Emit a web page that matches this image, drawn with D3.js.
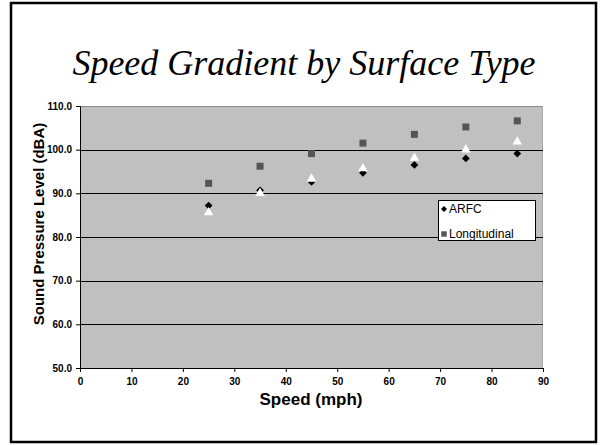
<!DOCTYPE html>
<html><head><meta charset="utf-8">
<script src="https://cdn.jsdelivr.net/npm/d3@7"></script>
<style>
html,body{margin:0;padding:0;background:#fff;}
svg{display:block;}
</style></head>
<body>
<svg id="chart" width="600" height="445"></svg>
<script>
const speeds = [25, 35, 45, 55, 65, 75, 85];
const arfc = [87.2, 90.7, 92.6, 94.7, 96.5, 98.0, 99.1];
const longitudinal = [92.3, 96.2, 99.1, 101.5, 103.5, 105.2, 106.6];
const thirdSeries = [85.6, 90.0, 93.3, 95.7, 98.1, 100.0, 101.8];
const xTicks = [0, 10, 20, 30, 40, 50, 60, 70, 80, 90];
const yTicks = [50, 60, 70, 80, 90, 100, 110];
const legendNames = ["ARFC", "Longitudinal"];

const SERIF = '"Liberation Serif"';
const SANS = '"Liberation Sans"';
const svg = d3.select("#chart");
const L = 80, R = 543, T = 106, B = 368;

// outer frame
svg.append("rect").attr("x", 11).attr("y", 3).attr("width", 585).attr("height", 439)
  .attr("fill", "#fff").attr("stroke", "#000").attr("stroke-width", 2.5);

// title
svg.append("text").attr("x", 304).attr("y", 75).attr("text-anchor", "middle")
  .style("font-family", SERIF).style("font-style", "italic")
  .style("font-size", "36px").attr("fill", "#000").text("Speed Gradient by Surface Type");

const x = d3.scaleLinear().domain([0, 90]).range([L, R]);
const y = d3.scaleLinear().domain([50, 110]).range([B, T]);

// plot area
svg.append("rect").attr("x", L).attr("y", T).attr("width", R - L).attr("height", B - T)
  .attr("fill", "#c0c0c0");
svg.append("line").attr("x1", L).attr("x2", R).attr("y1", T + 0.5).attr("y2", T + 0.5)
  .attr("stroke", "#8c8c8c").attr("stroke-width", 1);
svg.append("line").attr("x1", R - 0.5).attr("x2", R - 0.5).attr("y1", T).attr("y2", B)
  .attr("stroke", "#a8a8a8").attr("stroke-width", 1);

// gridlines
svg.append("g").selectAll("line").data(yTicks.filter(d => d > 50 && d < 110)).join("line")
  .attr("x1", L).attr("x2", R)
  .attr("y1", d => Math.round(y(d)) + 0.5).attr("y2", d => Math.round(y(d)) + 0.5)
  .attr("stroke", "#000").attr("stroke-width", 1);

// axes
const yAxis = svg.append("g").attr("transform", `translate(${L},0)`)
  .call(d3.axisLeft(y).tickValues(yTicks).tickFormat(d3.format(".1f")).tickSize(4).tickPadding(4));
const xAxis = svg.append("g").attr("transform", `translate(0,${B})`)
  .call(d3.axisBottom(x).tickValues(xTicks).tickFormat(d3.format("d")).tickSize(4).tickPadding(6));
[yAxis, xAxis].forEach(a => {
  a.attr("font-family", null).attr("font-size", null);
  a.select(".domain").attr("stroke", "#000");
  a.selectAll(".tick line").attr("stroke", "#000");
  a.selectAll("text").style("font-family", SANS).style("font-weight", "bold")
    .style("font-size", "10px").attr("fill", "#000");
});

// axis titles
svg.append("text").attr("x", 311).attr("y", 405).attr("text-anchor", "middle")
  .style("font-family", SANS).style("font-weight", "bold").style("font-size", "17px")
  .text("Speed (mph)");
svg.append("text").attr("transform", "translate(44,224) rotate(-90)").attr("text-anchor", "middle")
  .style("font-family", SANS).style("font-weight", "bold").style("font-size", "15px")
  .text("Sound Pressure Level (dBA)");

// markers
const sq = d3.symbol().type(d3.symbolSquare).size(49);
const dia = d3.symbol().type(d3.symbolSquare).size(30);
const tri = d3.symbol().type(d3.symbolTriangle).size(40);

svg.append("g").selectAll("path").data(speeds.map((s, i) => [s, longitudinal[i]])).join("path")
  .attr("d", sq).attr("transform", d => `translate(${x(d[0])},${y(d[1])})`)
  .attr("fill", "#555555");
svg.append("g").selectAll("path").data(speeds.map((s, i) => [s, arfc[i]])).join("path")
  .attr("d", dia).attr("transform", d => `translate(${x(d[0])},${y(d[1])}) rotate(45)`)
  .attr("fill", "#000");
svg.append("g").selectAll("path").data(speeds.map((s, i) => [s, thirdSeries[i]])).join("path")
  .attr("d", tri).attr("transform", d => `translate(${x(d[0])},${y(d[1])})`)
  .attr("fill", "#ffffff");

// legend
const lg = svg.append("g");
lg.append("rect").attr("x", 438.5).attr("y", 200.5).attr("width", 97).attr("height", 40)
  .attr("fill", "#fff").attr("stroke", "#000").attr("stroke-width", 1);
const legendShapes = [d3.symbol().type(d3.symbolSquare).size(18), d3.symbol().type(d3.symbolSquare).size(30)];
const legendRot = [45, 0];
const legendFill = ["#000", "#555555"];
legendNames.forEach((n, i) => {
  const cy = 209 + i * 25;
  lg.append("path").attr("d", legendShapes[i]).attr("transform", `translate(444,${cy}) rotate(${legendRot[i]})`)
    .attr("fill", legendFill[i]);
  lg.append("text").attr("x", 449).attr("y", cy + 4)
    .style("font-family", SANS).style("font-size", "12px").attr("fill", "#000").text(n);
});
</script>
</body></html>
